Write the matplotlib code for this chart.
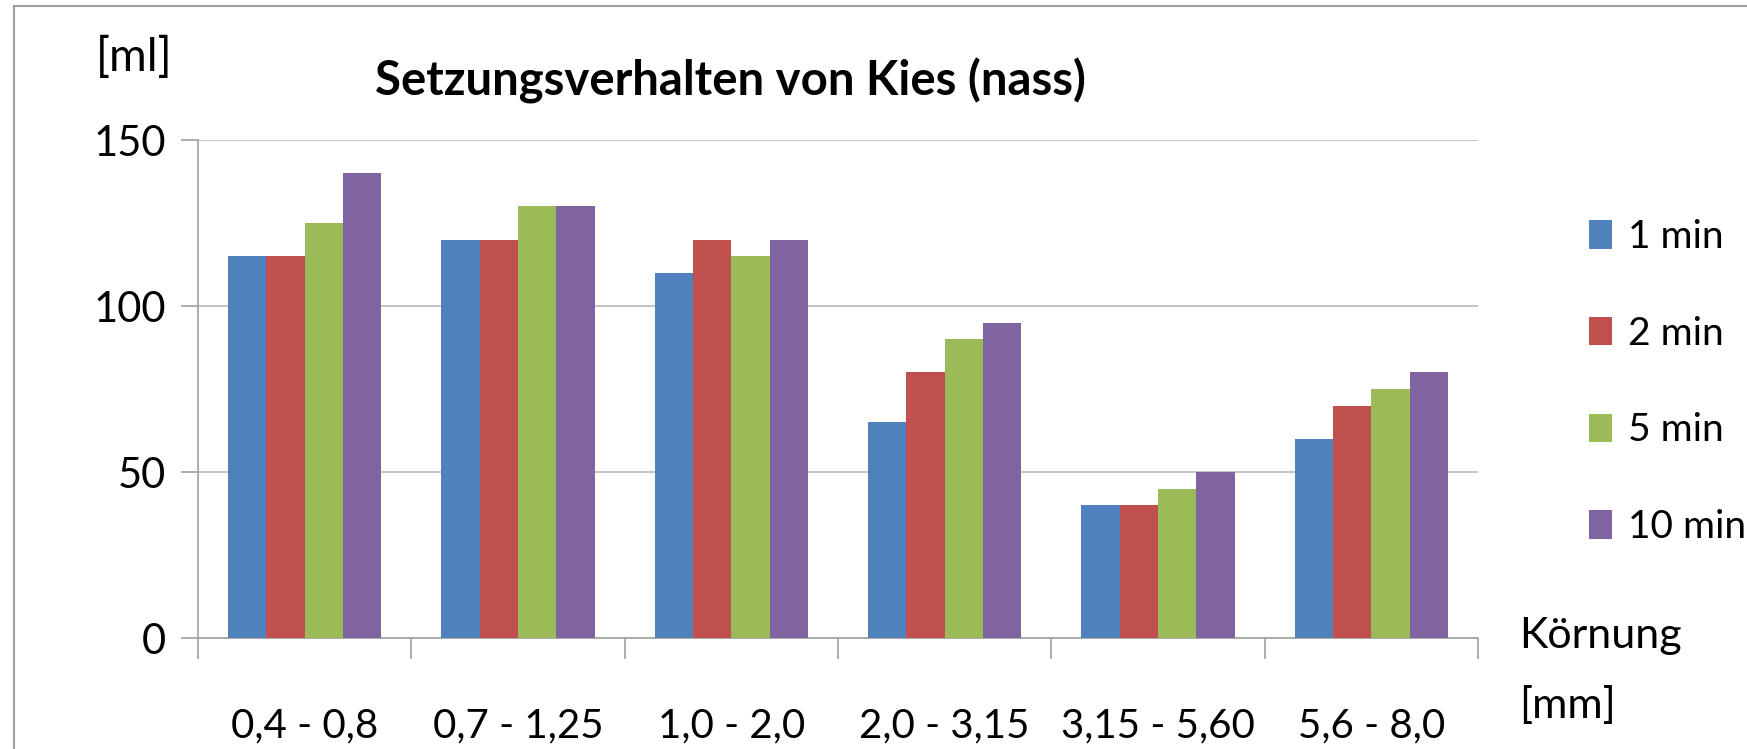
import numpy as np
import matplotlib
matplotlib.use("Agg")
import matplotlib.pyplot as plt
from matplotlib.lines import Line2D

plt.rcParams['font.family'] = ['Lato', 'DejaVu Sans']

# data ==========================
kategorien = ['0,4 - 0,8', '0,7 - 1,25', '1,0 - 2,0', '2,0 - 3,15', '3,15 - 5,60', '5,6 - 8,0']
serien = ['1 min', '2 min', '5 min', '10 min']
min1 = [115, 120, 110, 65, 40, 60]
min2 = [115, 120, 120, 80, 40, 70]
min5 = [125, 130, 115, 90, 45, 75]
min10 = [140, 130, 120, 95, 50, 80]
farben = ['#4F81BD', '#C0504D', '#9BBB59', '#8064A2']
yticks = [0, 50, 100, 150]

W, H = 1747, 749
fig = plt.figure(figsize=(W / 100, H / 100), dpi=100)
ax = fig.add_axes([198 / W, 1 - 638 / H, (1478 - 198) / W, (638 - 140) / H])

# bars ==========================
x = np.arange(len(kategorien))
bw = 0.18
for i, (werte, farbe) in enumerate(zip([min1, min2, min5, min10], farben)):
    ax.bar(x + (i - 1.5) * bw, werte, bw, color=farbe, label=serien[i], zorder=3)

grau = '#A6A6A6'
ax.set_xlim(-0.5, len(kategorien) - 0.5)
ax.set_ylim(0, 150)
ax.set_yticks(yticks)
ax.set_yticklabels([str(v) for v in yticks], fontsize=30)
ax.yaxis.grid(True, color='#BFBFBF', lw=1.3, zorder=0)
ax.tick_params(axis='y', length=12, width=1.3, color=grau, pad=11)

ax.set_xticks(np.arange(-0.5, len(kategorien), 1))
ax.set_xticklabels([])
ax.tick_params(axis='x', which='major', length=15, width=1.3, color=grau)
ax.set_xticks(x, minor=True)
ax.set_xticklabels(kategorien, minor=True, fontsize=29)
ax.tick_params(axis='x', which='minor', length=0, pad=50)

for s in ['top', 'right']:
    ax.spines[s].set_visible(False)
for s in ['left', 'bottom']:
    ax.spines[s].set_color(grau)
    ax.spines[s].set_linewidth(1.3)

# texts ==========================
fig.text(730 / W, 1 - 81 / H, 'Setzungsverhalten von Kies (nass)', fontsize=34,
         fontweight='bold', ha='center', va='center')
fig.text(134 / W, 1 - 57 / H, '[ml]', fontsize=33, ha='center', va='center')
fig.text(1519 / W, 1 - 636 / H, 'Körnung', fontsize=31, ha='left', va='center')
fig.text(1519 / W, 1 - 706 / H, '[mm]', fontsize=31, ha='left', va='center')

fig.legend(loc='upper left', bbox_to_anchor=(1589 / W, 1 - 219 / H), frameon=False,
           fontsize=28, handlelength=0.6, handleheight=0.75, handletextpad=0.4,
           labelspacing=1.56, borderpad=0, borderaxespad=0)

# outer frame (left and top only visible) ==========
fig.add_artist(Line2D([14 / W, 14 / W], [0, 1 - 6 / H], color='#A0A0A0', lw=1.5,
                      transform=fig.transFigure))
fig.add_artist(Line2D([14 / W, 1], [1 - 6 / H, 1 - 6 / H], color='#A0A0A0', lw=1.5,
                      transform=fig.transFigure))

fig.savefig('out.png', dpi=100)
